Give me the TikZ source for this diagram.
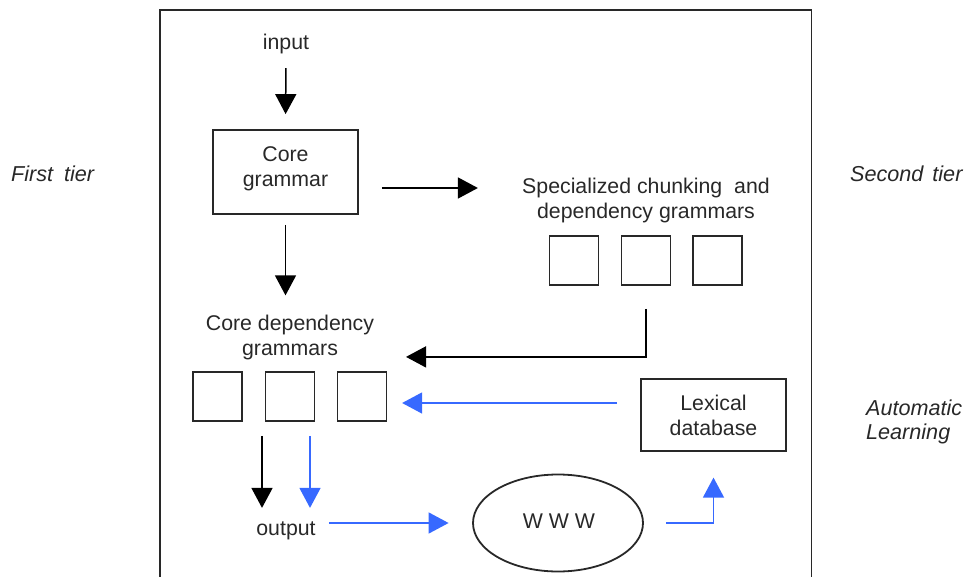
\documentclass[tikz,border=0pt]{standalone}
\usepackage{fontspec}
\setmainfont{Liberation Sans}
\usetikzlibrary{arrows.meta,shapes.geometric}
\definecolor{arrblue}{RGB}{55,105,255}
\definecolor{ink}{RGB}{40,40,40}
\begin{document}
\begin{tikzpicture}[x=1pt,y=-1pt,
  every node/.style={font=\fontsize{21.3}{25}\selectfont, inner sep=0pt, text=ink},
  conn/.style={line width=1.5pt, draw=black, -{Triangle[length=20pt,width=21pt]}},
  blueconn/.style={line width=1.5pt, draw=arrblue, -{Triangle[length=20pt,width=21pt]}},
  bigbox/.style={draw=ink, line width=1.8pt, rectangle, align=center, minimum width=145pt},
  smallbox/.style={draw=ink, line width=1.8pt, rectangle, minimum width=49pt, minimum height=49pt},
  sidelabel/.style={font=\fontsize{21.6}{24}\selectfont\itshape, align=left},
  frame/.style={draw=ink, line width=1.8pt}]
\useasboundingbox (0,0) rectangle (965,577);
% outer frame (open at the bottom)
\draw[frame] (160,578) -- (160,10) -- (811.5,10) -- (811.5,578);

% side labels
\node[sidelabel, anchor=base west] (first) at (11,182) {First\hspace{11pt}tier};
\node[sidelabel, anchor=base west] (second) at (850,182) {Second\hspace{9pt}tier};
\node[sidelabel, anchor=west] (auto) at (866,421.5) {Automatic\\Learning};

% first tier
\node[anchor=base] (input) at (286,50) {input};
\node[bigbox, minimum height=84pt, text depth=10pt] (cg) at (285.5,172) {Core\\grammar};
\node[align=center] (spec) at (646,200) {Specialized chunking\hspace{6pt} and\\dependency grammars};
\node[smallbox] (sb1) at (574,260.5) {};
\node[smallbox] (sb2) at (646,260.5) {};
\node[smallbox] (sb3) at (717.5,260.5) {};

\node[align=center] (coredep) at (290,337) {Core dependency\\grammars};
\node[smallbox] (cb1) at (217.5,396.5) {};
\node[smallbox] (cb2) at (290,396.5) {};
\node[smallbox] (cb3) at (362,396.5) {};

\node[bigbox, minimum height=72pt] (lex) at (713.5,415) {Lexical\\database};
\node[anchor=base] (output) at (286,535) {output};
\node[draw=ink, line width=1.8pt, ellipse, minimum width=170pt, minimum height=97pt] (www) at (558,523) {};
\node[anchor=base] (wwwt) at (559,528) {W W W};

% connectors
\draw[conn, shorten <=13.6pt, shorten >=15pt] (input.south) -- (cg.north);
\draw[conn] (cg.east) ++(23,16) -- ++(96,0);
\draw[conn, shorten <=10pt, shorten >=19pt] (cg.south) -- (cg.south |- coredep.north);
\draw[conn] (sb2.south) ++(0,23) -- ++(0,48) -- ++(-240,0);
\draw[blueconn] (lex.west) ++(-23,-12) -- ++(-215,0);
\draw[conn] (cb2.south) ++(-28,14) -- ++(0,72);
\draw[blueconn] (cb2.south) ++(20,14) -- ++(0,72);
\draw[blueconn, shorten <=13pt, shorten >=23.5pt] (output.east |- www.west) -- (www.west);
\draw[blueconn, shorten >=25.7pt] (www.east) ++(22.5,0) -| (lex.south);
\end{tikzpicture}
\end{document}
